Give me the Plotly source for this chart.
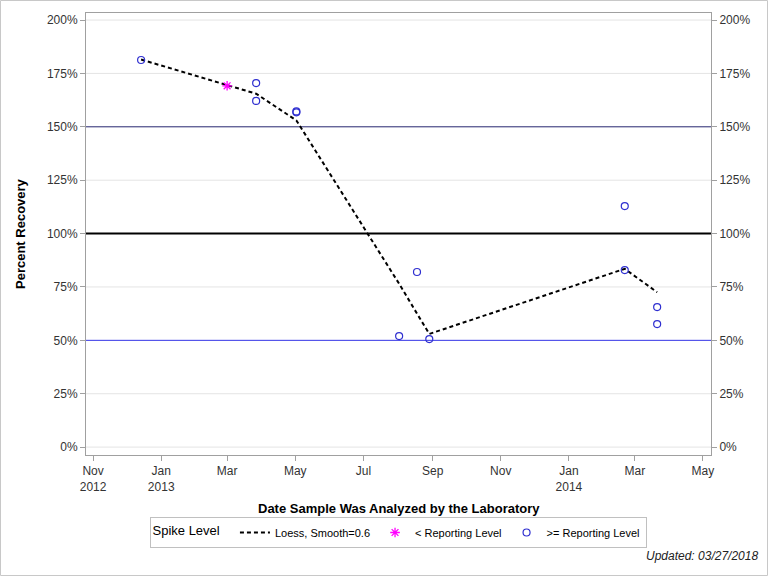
import plotly.graph_objects as go

# Datos
loess_dates = ["2012-12-14", "2013-03-01", "2013-03-27", "2013-05-02", "2013-08-02",
               "2013-08-18", "2013-08-29", "2014-02-20", "2014-03-21"]
loess_vals = [181.5, 169.5, 165.5, 153.0, 76.5, 62.5, 53.0, 83.5, 72.5]

below_dates = ["2013-03-01"]
below_vals = [169.2]

above_dates = ["2012-12-14", "2013-03-27", "2013-03-27", "2013-05-02", "2013-05-02",
               "2013-08-02", "2013-08-18", "2013-08-29", "2014-02-20", "2014-02-20",
               "2014-03-21", "2014-03-21"]
above_vals = [181.3, 170.5, 162.1, 157.2, 156.8, 52.0, 82.0, 50.6, 112.9, 82.9, 65.6, 57.6]

ref_levels = [150, 100, 50]
ref_colors = ["#262670", "black", "#3333e6"]
ref_widths = [1, 2, 1]

xtick_vals = ["2012-11-01", "2013-01-01", "2013-03-01", "2013-05-01", "2013-07-01",
              "2013-09-01", "2013-11-01", "2014-01-01", "2014-03-01", "2014-05-01"]
xtick_text = ["Nov<br>2012", "Jan<br>2013", "Mar", "May", "Jul", "Sep", "Nov",
              "Jan<br>2014", "Mar", "May"]
ytick_vals = [0, 25, 50, 75, 100, 125, 150, 175, 200]
ytick_text = [f"{v}%" for v in ytick_vals]

FONT = "Liberation Sans, Arial, sans-serif"
GRID = "#e4e4e4"
FRAME = "#a0a0a0"
W, H = 768, 576
ML, MR, MT, MB = 86, 57, 13, 121
PW, PH = W - ML - MR, H - MT - MB

fig = go.Figure()

fig.add_trace(go.Scatter(
    x=loess_dates, y=loess_vals, mode="lines", name="Loess, Smooth=0.6",
    line=dict(color="black", width=2, dash="4px,3px"),
))
fig.add_trace(go.Scatter(
    x=below_dates, y=below_vals, mode="markers", name="< Reporting Level",
    marker=dict(symbol="asterisk-open", size=8, color="#ff00ff", line=dict(width=1.3)),
))
fig.add_trace(go.Scatter(
    x=above_dates, y=above_vals, mode="markers", name=">= Reporting Level",
    marker=dict(symbol="circle-open", size=7, color="#2f2fd0", line=dict(width=1.2)),
))
# Traza invisible para el eje derecho
fig.add_trace(go.Scatter(
    x=above_dates[:1], y=above_vals[:1], yaxis="y2", mode="markers",
    marker=dict(opacity=0), showlegend=False, hoverinfo="skip",
))

yaxis_common = dict(
    range=[-3.7, 203.3], tickvals=ytick_vals, ticktext=ytick_text,
    ticks="outside", ticklen=5, tickcolor=FRAME, showline=True, linecolor=FRAME,
    tickfont=dict(family=FONT, size=12, color="#333"), zeroline=False, automargin=False,
    showgrid=False,
)

fig.update_layout(
    template="none",
    width=W, height=H,
    margin=dict(l=ML, r=MR, t=MT, b=MB, autoexpand=False),
    plot_bgcolor="white", paper_bgcolor="white",
    font=dict(family=FONT, size=12, color="black"),
    xaxis=dict(
        type="date", range=["2012-10-25 16:00", "2014-05-08 05:00"],
        tickvals=xtick_vals, ticktext=xtick_text,
        ticks="outside", ticklen=5, tickcolor=FRAME, automargin=False,
        showline=True, linecolor=FRAME, mirror=True, showgrid=False, zeroline=False,
        tickfont=dict(family=FONT, size=12, color="#333"),
    ),
    yaxis=dict(**yaxis_common),
    yaxis2=dict(overlaying="y", side="right", **yaxis_common),
    showlegend=True,
    legend=dict(
        orientation="h", xref="container", yref="container",
        x=398 / W, xanchor="center", y=(H - 517) / H, yanchor="top",
        bgcolor="white", bordercolor="#c0c0c0", borderwidth=1,
        font=dict(family=FONT, size=11),
        title=dict(text="Spike Level  ", font=dict(family=FONT, size=13)),
        itemwidth=30,
    ),
    annotations=[
        dict(text="<b>Percent Recovery</b>", xref="paper", yref="paper",
             x=-66 / PW, xanchor="center", y=0.5, yanchor="middle", textangle=-90,
             showarrow=False, font=dict(family=FONT, size=13)),
        dict(text="<b>Date Sample Was Analyzed by the Laboratory</b>", xref="paper", yref="paper",
             x=0.5, y=(455 - 508) / PH, yanchor="middle", showarrow=False,
             font=dict(family=FONT, size=13)),
        dict(text="<i>Updated: 03/27/2018</i>", xref="paper", yref="paper",
             x=(760 - ML) / PW, xanchor="right", y=(455 - 556) / PH, yanchor="middle",
             showarrow=False, font=dict(family=FONT, size=12, color="#222")),
    ],
    shapes=[
        dict(type="rect", xref="paper", yref="paper",
             x0=(0.5 - ML) / PW, x1=(W - 0.5 - ML) / PW,
             y0=(455 - (H - 0.5)) / PH, y1=(455 - 0.5) / PH,
             line=dict(color="#c8c8c8", width=1), layer="below"),
    ],
)

# Rejilla como líneas horizontales, luego las líneas de referencia encima
for v in ytick_vals:
    if v not in ref_levels:
        fig.add_hline(y=v, line=dict(color=GRID, width=1), layer="below")
for lvl, col, wd in zip(ref_levels, ref_colors, ref_widths):
    fig.add_hline(y=lvl, line=dict(color=col, width=wd), layer="below")

# Quitar el margen por defecto del body para que la figura ocupe la ventana
fig.write_html("out.html", config={"displayModeBar": False},
               post_script="document.body.style.margin='0';")
